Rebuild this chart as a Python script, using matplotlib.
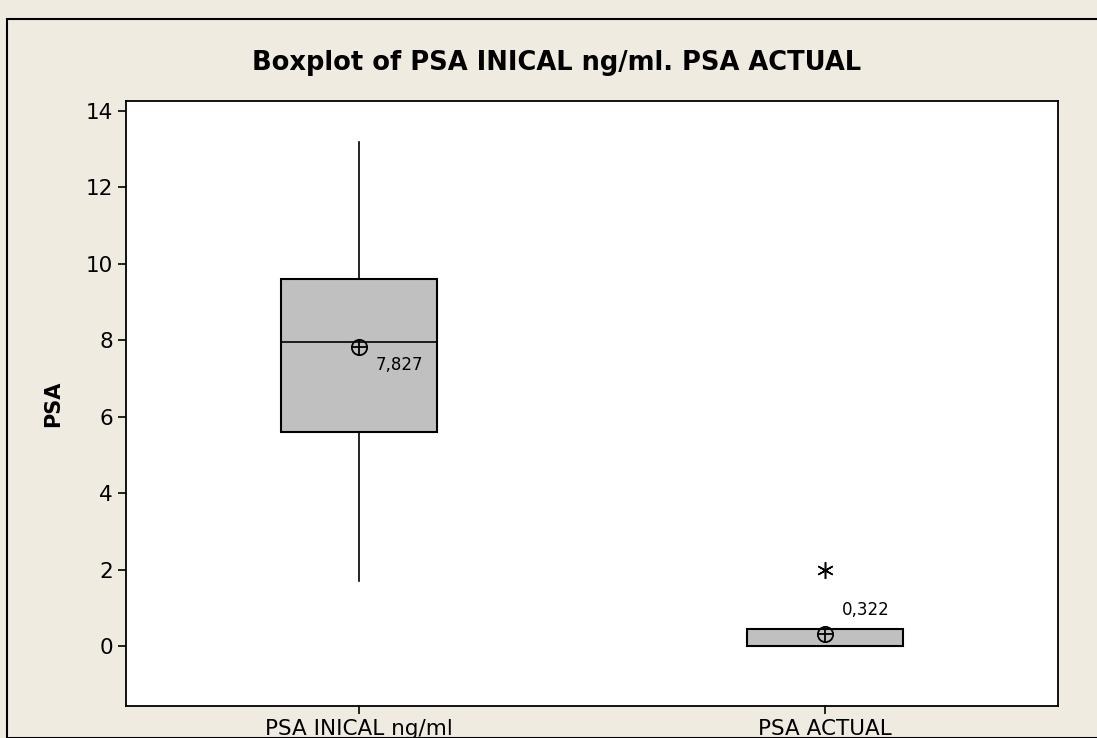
import matplotlib.pyplot as plt
from matplotlib.patches import Rectangle

labels = ["PSA INICAL ng/ml", "PSA ACTUAL"]
q1 = [5.6, 0.0]
med = [7.95, 0.0]
q3 = [9.6, 0.45]
whislo = [1.7, 0.0]
whishi = [13.2, 0.45]
means = [7.827, 0.322]
fliers = [[], [2.0]]
mean_text = ["7,827", "0,322"]

plt.rcParams['font.family'] = 'DejaVu Sans'

fig = plt.figure(figsize=(10.97, 7.38), dpi=100)
bg = '#efebe0'
fig.patch.set_facecolor(bg)
fig.patches.append(Rectangle((7 / 1097, 0), 1.2, (738 - 19) / 738, transform=fig.transFigure,
                             fill=False, edgecolor='black', linewidth=1.5, zorder=0))

ax = fig.add_axes([126 / 1097, 1 - 706 / 738, 932 / 1097, 605 / 738])
ax.set_facecolor('white')

stats = []
for i in range(len(labels)):
    stats.append(dict(label=labels[i], q1=q1[i], med=med[i], q3=q3[i],
                      whislo=whislo[i], whishi=whishi[i], mean=means[i],
                      fliers=fliers[i]))

ax.bxp(stats, positions=[1, 2], widths=0.333, patch_artist=True, showcaps=False,
       showmeans=False,
       boxprops=dict(facecolor='#c0c0c0', edgecolor='black', linewidth=1.5),
       medianprops=dict(color='black', linewidth=1.2),
       whiskerprops=dict(color='black', linewidth=1.2),
       flierprops=dict(marker=(6, 2, 0), markersize=12, markeredgecolor='black',
                       markeredgewidth=1.1, linestyle='none'))

pos = [1, 2]
ax.plot(pos, means, linestyle='none', marker='o', markersize=11,
        markerfacecolor='none', markeredgecolor='black', markeredgewidth=1.3, zorder=5)
ax.plot(pos, means, linestyle='none', marker='+', markersize=11,
        markeredgecolor='black', markeredgewidth=1.3, zorder=5)

ax.annotate(mean_text[0], (pos[0], means[0]), xytext=(12, -13), textcoords='offset points',
            fontsize=12, ha='left', va='center')
ax.annotate(mean_text[1], (pos[1], means[1]), xytext=(12, 17), textcoords='offset points',
            fontsize=12, ha='left', va='center')

ax.set_xlim(0.5, 2.5)
ax.set_ylim(-1.57, 14.26)
ax.set_yticks(range(0, 15, 2))
ax.set_xticks(pos)
ax.set_xticklabels(labels)
ax.tick_params(axis='both', labelsize=15.5, direction='out', length=6, width=1.2)
for s in ax.spines.values():
    s.set_linewidth(1.3)

ax.set_ylabel("PSA", fontsize=15, fontweight='bold', labelpad=16)
fig.text(557 / 1097, 1 - 63 / 738, "Boxplot of PSA INICAL ng/ml. PSA ACTUAL",
         fontsize=18.5, fontweight='bold', ha='center', va='center')

plt.savefig("out.png", dpi=100, facecolor=bg)
